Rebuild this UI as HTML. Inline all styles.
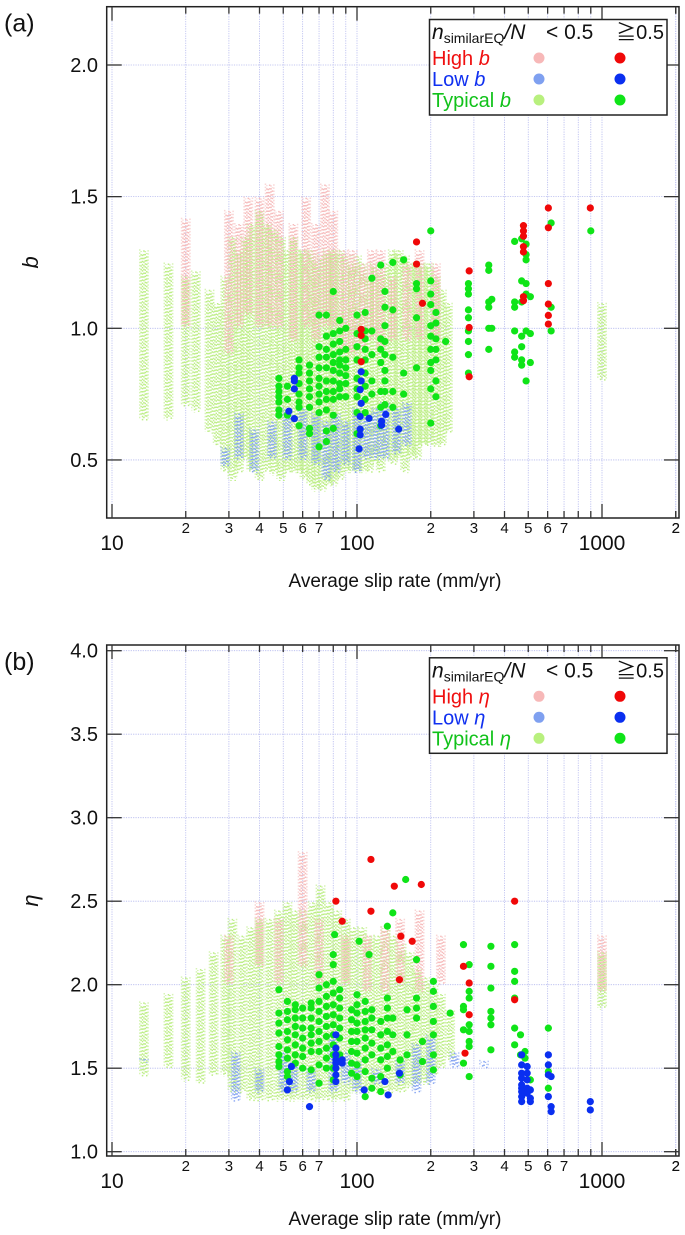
<!DOCTYPE html>
<html><head><meta charset="utf-8"><style>
html,body{margin:0;padding:0;background:#fff;}
svg{display:block;font-family:"Liberation Sans",Arial,sans-serif;}
</style></head><body>
<svg id="fig" width="685" height="1235" viewBox="0 0 685 1235" xmlns="http://www.w3.org/2000/svg"></svg>
<script>
// ---------- Panel (a) data: b-value ----------
const aBgGreenX  = [13.5,17,20,22,25,27,29,31,33,35,37,40,43,46,49,52,55,58,61,65,68,72,76,80,85,90,95,100,106,112,118,125,132,140,148,157,166,176,186,197,210,222,235,1000];
const aBgGreenLo = [0.65,0.65,0.7,0.68,0.6,0.55,0.45,0.42,0.45,0.5,0.45,0.42,0.45,0.44,0.42,0.45,0.45,0.45,0.42,0.4,0.38,0.38,0.4,0.4,0.42,0.45,0.45,0.45,0.45,0.45,0.48,0.45,0.5,0.48,0.5,0.45,0.5,0.5,0.55,0.55,0.55,0.55,0.6,0.8];
const aBgGreenHi = [1.3,1.25,1.2,1.22,1.15,1.1,1.2,1.35,1.3,1.35,1.4,1.45,1.4,1.38,1.35,1.3,1.35,1.3,1.3,1.3,1.25,1.28,1.3,1.3,1.3,1.28,1.25,1.28,1.25,1.2,1.25,1.22,1.25,1.3,1.3,1.28,1.25,1.25,1.25,1.25,1.2,1.15,1.1,1.1];
const aBgPinkX  = [20,30,33,36,40,44,48,55,62,68,74,80,88,96,105,115,125,140,160,180,210];
const aBgPinkLo = [1.0,0.9,1.0,1.05,1.0,1.0,1.0,0.95,1.0,0.95,1.0,1.0,0.9,0.9,0.9,0.95,0.9,0.95,0.95,0.95,0.95];
const aBgPinkHi = [1.42,1.45,1.4,1.5,1.5,1.55,1.45,1.4,1.5,1.4,1.55,1.45,1.3,1.3,1.25,1.3,1.3,1.2,1.25,1.3,1.25];
const aBgBlueX  = [29,33,38,45,52,60,68,75,82,90,100,110,120,130,145,160];
const aBgBlueLo = [0.47,0.5,0.45,0.5,0.5,0.5,0.48,0.42,0.45,0.48,0.45,0.5,0.5,0.5,0.52,0.55];
const aBgBlueHi = [0.55,0.68,0.62,0.65,0.7,0.7,0.68,0.65,0.68,0.65,0.7,0.68,0.7,0.72,0.7,0.72];
const aRed = [[175,1.328],[175,1.244],[185,1.095],[104,0.996],[104,0.973],[104,0.873],[287,1.218],[287,1.003],[287,0.816],[478,1.39],[478,1.37],[478,1.35],[478,1.31],[478,1.29],[478,1.105],[478,1.12],[604,1.457],[604,1.382],[604,1.17],[604,1.092],[604,1.049],[604,1.016],[896,1.457]];
const aBlue = [[52.7,0.685],[55.5,0.81],[55.5,0.80],[55.5,0.77],[55.5,0.657],[104,0.835],[104,0.8],[103,0.767],[104,0.715],[103,0.665],[103,0.617],[103,0.595],[102,0.542],[112,0.658],[126,0.647],[131,0.673],[126,0.632],[148,0.617]];
const aGreenCols = [
 [48,[0.81,0.78,0.76,0.74,0.72,0.69,0.67]],[52,[0.78,0.73,0.67]],
 [58,[0.88,0.85,0.83,0.79,0.75,0.72,0.70,0.63]],[64,[0.86,0.83,0.80,0.77,0.74,0.70,0.62,0.60]],
 [70,[1.05,0.93,0.89,0.85,0.81,0.78,0.75,0.72,0.68,0.55]],[75,[1.05,0.97,0.92,0.89,0.85,0.80,0.76,0.73,0.69,0.61,0.57]],
 [80,[1.14,0.98,0.94,0.90,0.87,0.84,0.80,0.76,0.73,0.67,0.62]],[85,[1.03,0.99,0.95,0.91,0.88,0.86,0.83,0.79,0.77,0.74]],
 [90,[1.00,0.92,0.88,0.85,0.82,0.79,0.74]],[100,[1.05,0.98,0.93,0.88,0.81,0.77,0.74,0.68,0.60]],
 [108,[1.06,0.99,0.96,0.92,0.88,0.83,0.78,0.73,0.68]],[115,[1.19,0.99,0.90,0.80,0.75]],
 [125,[1.24,0.96,0.92,0.87,0.76,0.70,0.63]],[130,[1.14,1.08,1.01,0.95,0.90,0.84,0.80,0.76,0.71]],
 [140,[1.25,1.07,0.89,0.76,0.70]],[155,[1.26,0.83,0.75]],[175,[1.17,1.15,1.04,0.85]],
 [200,[1.37,1.18,1.13,1.09,1.01,0.97,0.92,0.87,0.84,0.77,0.64]],[210,[1.06,1.02,0.96,0.92,0.88,0.80,0.74]],
 [230,[0.95]],[285,[1.17,1.15,1.13,1.07,1.04,0.99,0.95,0.90,0.83]],[345,[1.24,1.22,1.10,1.08,1.00,0.92]],
 [355,[1.11,1.00]],[440,[1.33,1.10,1.08,0.99,0.91,0.89]],[470,[1.34,1.18,1.10,0.97,0.93,0.88,0.86]],
 [490,[1.32,1.28,1.26,1.17,1.13,0.99,0.80]],[510,[1.12,0.98,0.87]],[620,[1.40,1.08,0.99]],[900,[1.37]]
];
// ---------- Panel (b) data: eta ----------
const bBgGreenX  = [13.5,17,20,23,26,29,31,34,37,40,44,48,52,56,61,66,71,77,83,90,97,105,113,122,131,141,152,164,176,190,205,220,240,1000];
const bBgGreenLo = [1.45,1.5,1.42,1.4,1.45,1.45,1.35,1.35,1.3,1.3,1.3,1.3,1.3,1.3,1.3,1.3,1.3,1.3,1.3,1.3,1.35,1.35,1.35,1.35,1.35,1.35,1.35,1.38,1.4,1.4,1.45,1.5,1.55,1.85];
const bBgGreenHi = [1.9,1.95,2.05,2.1,2.2,2.3,2.4,2.3,2.35,2.4,2.4,2.45,2.5,2.45,2.45,2.5,2.6,2.5,2.45,2.4,2.35,2.35,2.3,2.3,2.35,2.3,2.25,2.2,2.1,2.05,2.0,1.95,1.85,2.2];
const bBgPinkX  = [30,40,48,60,70,90,110,130,150,180,220,1000];
const bBgPinkLo = [2.0,2.1,2.0,2.1,2.0,2.0,1.95,1.95,2.0,1.95,2.0,1.95];
const bBgPinkHi = [2.3,2.5,2.4,2.8,2.4,2.3,2.3,2.35,2.4,2.45,2.3,2.3];
const bBgBlueX  = [13.5,32,40,50,55,65,80,90,100,120,150,175,200,250,330];
const bBgBlueLo = [1.53,1.3,1.35,1.35,1.35,1.35,1.35,1.4,1.35,1.4,1.4,1.35,1.4,1.5,1.5];
const bBgBlueHi = [1.56,1.6,1.5,1.6,1.55,1.5,1.7,1.6,1.55,1.5,1.55,1.65,1.7,1.6,1.55];
const bRed = [[82,2.50],[87,2.38],[114,2.75],[114,2.44],[142,2.59],[151,2.29],[168,2.26],[183,2.60],[149,2.03],[272,2.11],[287,2.01],[287,1.82],[276,1.59],[440,2.50],[440,1.91]];
const bBlue = [[82,1.70],[82,1.62],[82,1.58],[82,1.55],[82,1.53],[82,1.50],[82,1.46],[82,1.42],[87,1.55],[87,1.53],[54,1.51],[53,1.42],[52,1.37],[64,1.27],[107,1.37],[130,1.42],[134,1.34],[149,1.47],
 [470,1.58],[470,1.52],[470,1.47],[470,1.44],[470,1.40],[470,1.38],[470,1.36],[470,1.33],[470,1.30],[495,1.51],[495,1.47],[495,1.43],[495,1.38],[495,1.35],[510,1.37],[510,1.32],[510,1.30],
 [604,1.58],[604,1.52],[604,1.46],[604,1.33],[620,1.27],[620,1.24],[620,1.45],[896,1.30],[896,1.25]];
const bGreenCols = [
 [48,[1.97,1.83,1.77,1.71,1.63,1.58,1.54,1.51]],[52,[1.90,1.84,1.79,1.72,1.67,1.61,1.56,1.48,1.45]],
 [56,[1.88,1.85,1.80,1.75,1.70,1.64,1.58,1.53]],[60,[1.86,1.80,1.74,1.68,1.62,1.57,1.50]],
 [65,[1.89,1.86,1.80,1.74,1.70,1.65,1.60,1.49]],[70,[2.06,1.98,1.90,1.84,1.78,1.72,1.66,1.60,1.52,1.41]],
 [75,[2.00,1.93,1.87,1.81,1.75,1.69,1.62,1.56,1.50]],[80,[2.18,2.12,2.02,1.95,1.88,1.82,1.76,1.70,1.64,1.58,1.50,1.43]],
 [81,[2.30]],[85,[1.97,1.92,1.86,1.80,1.74,1.68,1.58]],[95,[1.85,1.79,1.72,1.66,1.60,1.53,1.47]],
 [100,[1.94,1.88,1.83,1.77,1.72,1.66,1.59,1.52,1.45]],[102,[2.26]],[108,[1.90,1.84,1.78,1.73,1.68,1.62,1.55,1.48,1.33]],
 [112,[2.18]],[115,[1.85,1.80,1.73,1.65,1.58,1.44,1.38]],[125,[1.78,1.70,1.62,1.55,1.45,1.36]],
 [133,[2.35,1.92,1.86,1.80,1.72,1.64,1.57,1.50]],[140,[2.43,1.80,1.70,1.60]],[150,[1.55,1.46]],[158,[2.63]],
 [160,[1.85,1.70,1.58]],[175,[2.15,1.92,1.86,1.80]],[185,[1.66,1.54]],
 [205,[2.02,1.96,1.87,1.78,1.70,1.58,1.49]],[240,[1.83]],
 [272,[2.24,1.87,1.85,1.73,1.53]],[287,[2.12,1.96,1.92,1.76,1.72,1.66,1.63,1.45]],
 [352,[2.23,2.11,1.98,1.84,1.80,1.76,1.61]],[440,[2.24,2.08,2.02,1.92,1.74,1.64]],
 [465,[1.70,1.58]],[485,[1.60,1.56]],[510,[1.43]],[604,[1.74,1.48,1.38]]
];

// ---------- geometry ----------
const NS = "http://www.w3.org/2000/svg";
const svg = document.getElementById('fig');
const X0 = 112, DEC = 245, FL = 106.7, FR = 679;
function xs(v){ return X0 + DEC*Math.log10(v/10); }
const panels = [
 {top:6.7, bot:518, y0:65, v0:2.0, k:263.3, ticks:[0.5,1.0,1.5,2.0], label:"(a)", sym:"b", off:0},
 {top:645, bot:1156, y0:650.7, v0:4.0, k:167, ticks:[1.0,1.5,2.0,2.5,3.0,3.5,4.0], label:"(b)", sym:"\u03b7", off:638.3}
];
function ysOf(p){ return v => p.y0 + (p.v0 - v)*p.k; }
function el(tag, attrs, parent){
 const e = document.createElementNS(NS, tag);
 for (const k in attrs) e.setAttribute(k, attrs[k]);
 (parent||svg).appendChild(e); return e;
}
function txt(s, attrs, parent){ const t = el('text', attrs, parent); t.textContent = s; return t; }

const bgData = [
 {gx:aBgGreenX,gl:aBgGreenLo,gh:aBgGreenHi,px:aBgPinkX,pl:aBgPinkLo,ph:aBgPinkHi,bx:aBgBlueX,bl:aBgBlueLo,bh:aBgBlueHi,red:aRed,blue:aBlue,green:aGreenCols},
 {gx:bBgGreenX,gl:bBgGreenLo,gh:bBgGreenHi,px:bBgPinkX,pl:bBgPinkLo,ph:bBgPinkHi,bx:bBgBlueX,bl:bBgBlueLo,bh:bBgBlueHi,red:bRed,blue:bBlue,green:bGreenCols}
];
const OFFS = [-4.2,-2.8,-1.4,0,1.4,2.8,4.2];

panels.forEach((p, pi) => {
 const ys = ysOf(p);
 const d = bgData[pi];
 const g = el('g', {});
 
 

 // gridlines
 const grid = el('g', {stroke:'#b4b8ee','stroke-width':0.8,'stroke-dasharray':'1.2 1.2'}, g);
 
 
 const gridVals = [];
 [10,100,1000].forEach(dec => { for (let m=1;m<=9;m++){ const v=dec*m; if (v<=2000) gridVals.push(v);} });
 gridVals.push(2000);
 gridVals.forEach(v => { const x=xs(v); if (x>FL && x<FR) el('line',{x1:x,x2:x,y1:p.top,y2:p.bot},grid); });
 p.ticks.forEach(v => { const y=ys(v); el('line',{x1:FL,x2:FR,y1:y,y2:y},grid); });

 // background clouds (columns)
 function cols(xa, lo, hi, color, name){
   const cg = el('g', {stroke:color,'stroke-width':1.5}, g);
   
   
   xa.forEach((v,i) => {
     const x = xs(v);
     OFFS.forEach((o,j) => {
       const edge = Math.abs(o) > 3 ? 0.6 : 1;
       const y1 = ys(hi[i]) + (j%3)*2, y2 = ys(lo[i]) - ((j+1)%3)*2;
       el('line',{x1:x+o,x2:x+o,y1:y1,y2:y2,'stroke-dasharray':(j%2? '1.5 2.2':'1.5 1.6'),'stroke-dashoffset':j*0.9,opacity:edge},cg);
     });
   });
 }
 cols(d.gx, d.gl, d.gh, '#bdee86', 'typical-low-similar-cloud');
 cols(d.px, d.pl, d.ph, '#f6bcbc', 'high-low-similar-cloud');
 cols(d.bx, d.bl, d.bh, '#86a4f2', 'low-low-similar-cloud');

 // big dots
 const gg = el('g', {fill:'#0fe418'}, g);
 
 
 d.green.forEach(c => c[1].forEach(v => { el('circle',{cx:xs(c[0]),cy:ys(v),r:3.6},gg); }));
 const bg = el('g', {fill:'#0a2ff0'}, g);
 
 
 d.blue.forEach(q => el('circle',{cx:xs(q[0]),cy:ys(q[1]),r:3.6},bg));
 const rg = el('g', {fill:'#f00808'}, g);
 
 
 d.red.forEach(q => el('circle',{cx:xs(q[0]),cy:ys(q[1]),r:3.6},rg));

 // frame
 const fr = el('rect',{x:FL,y:p.top,width:FR-FL,height:p.bot-p.top,fill:'none',stroke:'#222','stroke-width':1.5},g);
 
 

 // x ticks + labels
 const tk = el('g',{stroke:'#333','stroke-width':1.3},g);
 
 
 const xl = el('g',{fill:'#111','font-size':15,'text-anchor':'middle'},g);
 
 
 gridVals.forEach(v => {
   const x = xs(v); if (x<FL || x>FR) return;
   const major = [10,100,1000].includes(v);
   const L = major ? 14 : 7;
   el('line',{x1:x,x2:x,y1:p.bot,y2:p.bot-L},tk);
   el('line',{x1:x,x2:x,y1:p.top,y2:p.top+L},tk);
   const m = v/Math.pow(10,Math.floor(Math.log10(v)+1e-9));
   if (!major && m<=7 && (v<1000 || m===2)) txt(String(Math.round(m)),{x:x,y:p.bot+15},xl);
 });
 const ml = el('g',{fill:'#111','font-size':21,'text-anchor':'middle'},g);
 
 
 [10,100,1000].forEach(v => txt(String(v),{x:xs(v),y:p.bot+32},ml));
 const xt = txt('Average slip rate (mm/yr)',{x:395,y:p.bot+69,'font-size':19,'text-anchor':'middle',fill:'#111'},g);
 
 

 // y ticks + labels
 const yl = el('g',{fill:'#111','font-size':20,'text-anchor':'end'},g);
 
 
 p.ticks.forEach(v => {
   const y = ys(v);
   el('line',{x1:FL,x2:FL+15,y1:y,y2:y},tk);
   el('line',{x1:FR,x2:FR-15,y1:y,y2:y},tk);
   txt(v.toFixed(1),{x:98,y:y+7},yl);
 });
 const yt = txt(p.sym,{x:0,y:0,'font-size':22,'font-style':'italic','text-anchor':'middle',fill:'#111',transform:`translate(38 ${(p.top+p.bot)/2}) rotate(-90)`},g);
 
 
 const pl = txt(p.label,{x:4,y:p.top+25,'font-size':25,fill:'#111'},g);
 
 

 // legend
 const o = p.off;
 const lg = el('g',{},g);
 
 
 el('rect',{x:429.5,y:19.5+o,width:237.5,height:95.5,fill:'#fff',stroke:'#222','stroke-width':1.5},lg);
 const hd = el('text',{x:432,y:39+o,'font-size':21,fill:'#111'},lg);
 
 
 hd.innerHTML = '<tspan font-style="italic">n</tspan><tspan font-size="14" dy="4">similarEQ</tspan><tspan dy="-4" font-style="italic">/N</tspan>';
 txt('< 0.5',{x:546,y:39+o,'font-size':21,fill:'#111'},lg);
 txt('\u22670.5',{x:664,y:39+o,'font-size':20,fill:'#111','text-anchor':'end',
   'font-family':'"Liberation Sans","Noto Sans CJK JP",sans-serif'},lg);
 const rows = [['High ','#f01010','#f7b8b8','#f00808',58],['Low ','#1030f0','#7fa0f0','#0a2ff0',79],['Typical ','#11c21a','#b8f07e','#0fe418',100]];
 rows.forEach(r => {
   const t = el('text',{x:432,y:r[4]+7+o,'font-size':20,fill:r[1]},lg);
   
   
   t.innerHTML = r[0] + '<tspan font-style="italic">' + p.sym + '</tspan>';
   el('circle',{cx:539,cy:r[4]+o,r:5.5,fill:r[2]},lg);
   el('circle',{cx:620,cy:r[4]+o,r:5.5,fill:r[3]},lg);
 });
});
</script>
</body></html>
